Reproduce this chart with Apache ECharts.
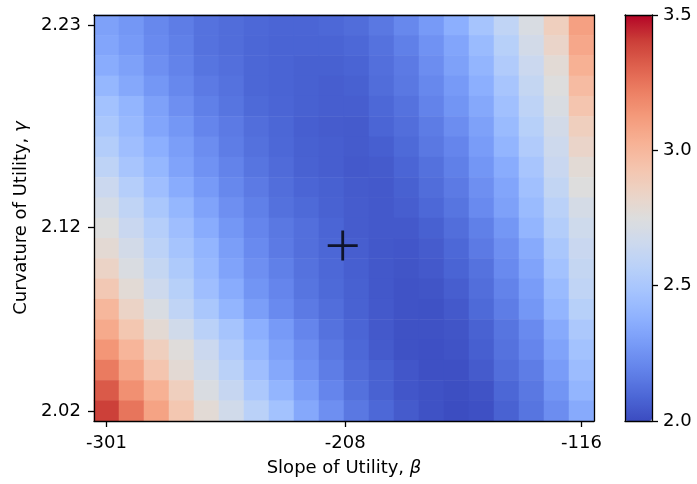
<!DOCTYPE html>
<html>
<head>
<meta charset="utf-8">
<script src="https://cdn.jsdelivr.net/npm/echarts@6/dist/echarts.min.js"></script>
<style>
html,body{margin:0;padding:0;background:#fff;}
#chart{width:697px;height:484px;}
</style>
</head>
<body>
<div id="chart"></div>
<script>
// Axis extents (cell centres) and tick labels
var betaFirst = -301, betaLast = -116;
var gammaFirst = 2.02, gammaLast = 2.23;
var betaTicks = [-301, -208, -116];
var gammaTicks = [2.02, 2.12, 2.23];
var colorbarTicks = [2.0, 2.5, 3.0, 3.5];
var valueMin = 2.0, valueMax = 3.5;
// Optimum marker
var optimumBeta = -209.0, optimumGamma = 2.11;

// Grid values, rows from top (gamma = 2.23) to bottom (gamma = 2.02), columns from beta = -301 to -116
var row00 = [2.31,2.27,2.21,2.17,2.13,2.11,2.095,2.085,2.085,2.095,2.11,2.15,2.21,2.28,2.37,2.48,2.60,2.72,2.87,3.10];
var row01 = [2.33,2.28,2.22,2.18,2.13,2.11,2.09,2.08,2.08,2.08,2.095,2.13,2.18,2.25,2.33,2.43,2.56,2.69,2.83,3.07];
var row02 = [2.36,2.31,2.24,2.19,2.14,2.12,2.09,2.08,2.07,2.07,2.08,2.12,2.16,2.23,2.31,2.40,2.53,2.65,2.78,3.03];
var row03 = [2.41,2.34,2.27,2.21,2.16,2.13,2.09,2.08,2.07,2.06,2.07,2.11,2.15,2.21,2.28,2.37,2.49,2.62,2.75,2.98];
var row04 = [2.47,2.40,2.31,2.24,2.18,2.14,2.10,2.085,2.07,2.06,2.06,2.095,2.13,2.19,2.26,2.34,2.46,2.59,2.72,2.93];
var row05 = [2.50,2.42,2.33,2.27,2.20,2.16,2.115,2.09,2.065,2.055,2.05,2.085,2.115,2.165,2.23,2.31,2.43,2.56,2.69,2.87];
var row06 = [2.54,2.45,2.37,2.30,2.23,2.17,2.125,2.095,2.07,2.06,2.05,2.065,2.10,2.15,2.20,2.29,2.40,2.53,2.66,2.83];
var row07 = [2.59,2.49,2.41,2.32,2.25,2.19,2.14,2.105,2.075,2.06,2.045,2.05,2.085,2.125,2.18,2.265,2.36,2.49,2.64,2.78];
var row08 = [2.65,2.55,2.45,2.36,2.28,2.21,2.16,2.115,2.085,2.07,2.05,2.045,2.07,2.11,2.16,2.24,2.33,2.46,2.61,2.75];
var row09 = [2.70,2.60,2.50,2.41,2.32,2.24,2.18,2.125,2.10,2.075,2.055,2.045,2.06,2.095,2.14,2.22,2.31,2.43,2.57,2.70];
var row10 = [2.75,2.64,2.55,2.45,2.36,2.27,2.20,2.15,2.12,2.085,2.055,2.045,2.045,2.07,2.115,2.18,2.27,2.40,2.54,2.67];
var row11 = [2.79,2.69,2.58,2.48,2.40,2.30,2.22,2.16,2.12,2.09,2.06,2.04,2.035,2.055,2.095,2.16,2.24,2.35,2.50,2.64];
var row12 = [2.84,2.73,2.62,2.52,2.42,2.32,2.24,2.18,2.13,2.095,2.065,2.04,2.03,2.045,2.08,2.13,2.22,2.32,2.47,2.62];
var row13 = [2.91,2.78,2.66,2.56,2.45,2.36,2.26,2.20,2.14,2.10,2.07,2.04,2.025,2.03,2.06,2.115,2.19,2.29,2.43,2.60];
var row14 = [3.00,2.84,2.72,2.60,2.50,2.40,2.30,2.22,2.16,2.115,2.075,2.045,2.025,2.02,2.045,2.10,2.17,2.27,2.40,2.56];
var row15 = [3.06,2.92,2.79,2.68,2.57,2.48,2.37,2.28,2.20,2.13,2.085,2.045,2.02,2.02,2.03,2.075,2.14,2.22,2.35,2.51];
var row16 = [3.14,3.01,2.87,2.76,2.65,2.53,2.41,2.31,2.23,2.15,2.095,2.05,2.02,2.015,2.025,2.065,2.13,2.20,2.32,2.47];
var row17 = [3.23,3.08,2.93,2.79,2.68,2.57,2.45,2.34,2.25,2.17,2.105,2.07,2.035,2.015,2.015,2.05,2.115,2.17,2.29,2.44];
var row18 = [3.33,3.16,3.03,2.87,2.73,2.63,2.51,2.40,2.30,2.20,2.125,2.075,2.035,2.02,2.01,2.025,2.09,2.15,2.26,2.40];
var row19 = [3.40,3.25,3.09,2.92,2.78,2.68,2.57,2.47,2.34,2.24,2.15,2.095,2.05,2.02,2.005,2.015,2.075,2.14,2.23,2.35];

// coolwarm colour stops
var coolwarm = ['#3b4cc0','#4d68d7','#6282ea','#779af7','#8db0fe','#a3c2fe','#b8d0f9','#ccd9ee',
                '#dddddd','#ecd3c5','#f5c4ad','#f7b194','#f49a7b','#ec7f63','#de604d','#cb3e38','#b40426'];

var rowsTopDown = [row00,row01,row02,row03,row04,row05,row06,row07,row08,row09,
                   row10,row11,row12,row13,row14,row15,row16,row17,row18,row19];
var nRows = rowsTopDown.length, nCols = row00.length;
var colCats = [], rowCats = [];
for (var c = 0; c < nCols; c++) colCats.push(String(c));
for (var r = 0; r < nRows; r++) rowCats.push(String(r));
var heatData = [];
for (var r = 0; r < nRows; r++) {
  for (var c = 0; c < nCols; c++) {
    heatData.push([c, nRows - 1 - r, rowsTopDown[r][c]]);
  }
}
var bStep = (betaLast - betaFirst) / (nCols - 1);
var gStep = (gammaLast - gammaFirst) / (nRows - 1);
var xMin = betaFirst - bStep / 2, xMax = betaLast + bStep / 2;
var yMin = gammaFirst - gStep / 2, yMax = gammaLast + gStep / 2;

var FONT = 'DejaVu Sans';
var lineStyle = {color: '#000', width: 1.3};
var G = {left: 94, top: 15, width: 500, height: 406};
var CB = {left: 625, top: 15, width: 27, height: 406};

function frameAxis(gridIndex, position, min, max) {
  return {type: 'value', gridIndex: gridIndex, position: position, min: min, max: max, z: 10,
    axisLine: {show: true, onZero: false, lineStyle: lineStyle},
    axisTick: {show: false}, axisLabel: {show: false}, splitLine: {show: false}};
}

var chart = echarts.init(document.getElementById('chart'), null, {renderer: 'canvas'});
chart.setOption({
  animation: false,
  backgroundColor: '#fff',
  grid: [
    {left: G.left, top: G.top, width: G.width, height: G.height},
    {left: G.left, top: G.top, width: G.width, height: G.height},
    {left: CB.left, top: CB.top, width: CB.width, height: CB.height}
  ],
  xAxis: [
    {type: 'category', gridIndex: 0, data: colCats, show: false},
    {type: 'value', gridIndex: 1, position: 'bottom', min: xMin, max: xMax, z: 10,
      axisLine: {show: true, onZero: false, lineStyle: lineStyle},
      axisTick: {show: true, length: 6, lineStyle: lineStyle, customValues: betaTicks},
      axisLabel: {show: true, margin: 13, color: '#000', fontFamily: FONT, fontSize: 18,
        customValues: betaTicks, formatter: function (v) { return String(Math.round(v)); }},
      splitLine: {show: false},
      name: '{n|Slope of Utility, }{g|β}', nameLocation: 'middle', nameGap: 38,
      nameTextStyle: {rich: {
        n: {fontFamily: FONT, fontSize: 18, color: '#000'},
        g: {fontFamily: FONT, fontSize: 18, color: '#000', fontStyle: 'italic'}}}
    },
    frameAxis(1, 'top', xMin, xMax),
    frameAxis(2, 'bottom', 0, 1),
    frameAxis(2, 'top', 0, 1)
  ],
  yAxis: [
    {type: 'category', gridIndex: 0, data: rowCats, show: false},
    {type: 'value', gridIndex: 1, position: 'left', min: yMin, max: yMax, z: 10,
      axisLine: {show: true, onZero: false, lineStyle: lineStyle},
      axisTick: {show: true, length: 6, lineStyle: lineStyle, customValues: gammaTicks},
      axisLabel: {show: true, margin: 13, color: '#000', fontFamily: FONT, fontSize: 18,
        customValues: gammaTicks, formatter: function (v) { return v.toFixed(2); }},
      splitLine: {show: false},
      name: '{n|Curvature of Utility, }{g|γ}', nameLocation: 'middle', nameGap: 64, nameRotate: 90,
      nameTextStyle: {rich: {
        n: {fontFamily: FONT, fontSize: 18, color: '#000'},
        g: {fontFamily: FONT, fontSize: 18, color: '#000', fontStyle: 'italic'}}}
    },
    frameAxis(1, 'right', yMin, yMax),
    {type: 'value', gridIndex: 2, position: 'right', min: valueMin, max: valueMax, z: 10,
      axisLine: {show: true, onZero: false, lineStyle: lineStyle},
      axisTick: {show: true, length: 6, lineStyle: lineStyle, customValues: colorbarTicks},
      axisLabel: {show: true, margin: 11, color: '#000', fontFamily: FONT, fontSize: 18,
        customValues: colorbarTicks, formatter: function (v) { return v.toFixed(1); }},
      splitLine: {show: false}},
    frameAxis(2, 'left', valueMin, valueMax)
  ],
  visualMap: {
    type: 'continuous', min: valueMin, max: valueMax, seriesIndex: 0,
    calculable: false, hoverLink: false, realtime: false,
    left: CB.left, top: CB.top, itemWidth: CB.width, itemHeight: CB.height,
    padding: 0, orient: 'vertical', text: null, showLabel: false,
    inRange: {color: coolwarm}
  },
  series: [
    {type: 'heatmap', xAxisIndex: 0, yAxisIndex: 0, data: heatData, silent: true,
      itemStyle: {borderWidth: 0}, progressive: 0},
    {type: 'scatter', xAxisIndex: 1, yAxisIndex: 1, silent: true, z: 5,
      data: [[optimumBeta, optimumGamma]],
      symbol: 'path://M13.6,0 H16.4 V13.6 H30 V16.4 H16.4 V30 H13.6 V16.4 H0 V13.6 H13.6 Z',
      symbolSize: 30, itemStyle: {color: '#000'}}
  ]
});
</script>
</body>
</html>
